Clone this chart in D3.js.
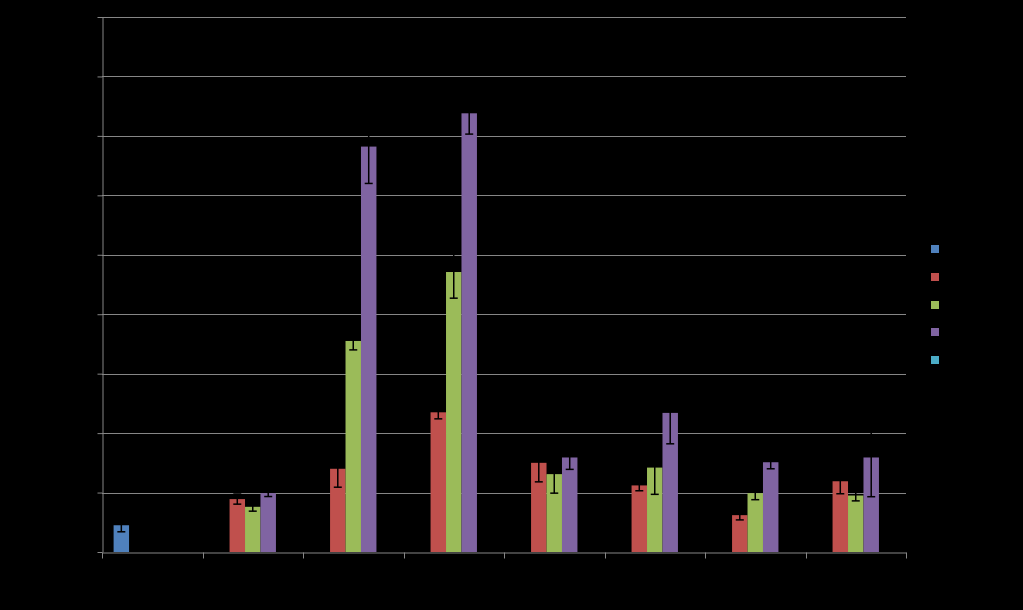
<!DOCTYPE html>
<html>
<head>
<meta charset="utf-8">
<script src="https://cdn.jsdelivr.net/npm/d3@7"></script>
<style>
html,body{margin:0;padding:0;background:#000;}
svg{display:block;}
</style>
</head>
<body>
<svg id="chart" width="1023" height="610"></svg>
<script>
const categories = ["1","2","3","4","5","6","7","8"];
const seriesNames = ["Series 1","Series 2","Series 3","Series 4","Series 5"];
const seriesColors = ["#4F81BD","#C0504D","#9BBB59","#8064A2","#4BACC6"];
const s1Values = [0.45, null, null, null, null, null, null, null];
const s1Errors = [0.11, null, null, null, null, null, null, null];
const s2Values = [null, 0.89, 1.40, 2.35, 1.50, 1.12, 0.62, 1.19];
const s2Errors = [null, 0.085, 0.31, 0.11, 0.32, 0.09, 0.08, 0.21];
const s3Values = [null, 0.76, 3.55, 4.71, 1.31, 1.42, 0.99, 0.95];
const s3Errors = [null, 0.073, 0.15, 0.44, 0.32, 0.45, 0.11, 0.09];
const s4Values = [null, 0.99, 6.82, 7.38, 1.59, 2.34, 1.51, 1.59];
const s4Errors = [null, 0.057, 0.62, 0.35, 0.20, 0.52, 0.11, 0.66];
const s5Values = [null, null, null, null, null, null, null, null];
const s5Errors = [null, null, null, null, null, null, null, null];
const yTicks = [0,1,2,3,4,5,6,7,8,9];

const seriesValues = [s1Values, s2Values, s3Values, s4Values, s5Values];
const seriesErrors = [s1Errors, s2Errors, s3Errors, s4Errors, s5Errors];

const svg = d3.select("#chart");
const m = {left:102, right:906, top:17, bottom:552};
const axisColor = "#868686";

const x = d3.scaleBand().domain(categories).range([m.left, m.right]).paddingInner(0).paddingOuter(0);
const xs = d3.scaleBand().domain(seriesNames).range([0, x.bandwidth()]).paddingInner(0).paddingOuter(0.15);
// Excel gap width 150%: 5 bars + 1.5 bar gap -> outer padding 0.75 bar each side
const barW = x.bandwidth() / 6.5;
const y = d3.scaleLinear().domain([0, 9]).range([m.bottom, m.top]);

// gridlines
svg.append("g").selectAll("line").data(yTicks.slice(1)).join("line")
  .attr("x1", m.left).attr("x2", m.right)
  .attr("y1", d => Math.round(y(d)) + 0.5).attr("y2", d => Math.round(y(d)) + 0.5)
  .attr("stroke", axisColor).attr("stroke-width", 1);

// bars
seriesNames.forEach((name, si) => {
  const vals = seriesValues[si];
  const g = svg.append("g");
  vals.forEach((v, ci) => {
    if (v == null) return;
    const bx = x(categories[ci]) + barW * 0.75 + si * barW;
    g.append("rect")
      .attr("x", bx).attr("width", barW)
      .attr("y", y(v)).attr("height", y(0) - y(v))
      .attr("fill", seriesColors[si]);
  });
});

// error bars
seriesNames.forEach((name, si) => {
  const vals = seriesValues[si], errs = seriesErrors[si];
  const g = svg.append("g").attr("stroke", "#000").attr("stroke-width", 1.5);
  vals.forEach((v, ci) => {
    if (v == null || errs[ci] == null) return;
    const cx = x(categories[ci]) + barW * 0.75 + si * barW + barW / 2;
    const lo = y(v - errs[ci]), hi = y(v + errs[ci]);
    g.append("line").attr("x1", cx).attr("x2", cx).attr("y1", lo).attr("y2", hi);
    g.append("line").attr("x1", cx - 4).attr("x2", cx + 4).attr("y1", lo).attr("y2", lo);
    g.append("line").attr("x1", cx - 4).attr("x2", cx + 4).attr("y1", hi).attr("y2", hi);
  });
});

// y axis
const yAxis = d3.axisLeft(y).tickValues(yTicks).tickSize(5).tickSizeOuter(0).tickPadding(6);
const gy = svg.append("g").attr("transform", `translate(${m.left + 0.5},0)`).call(yAxis);
gy.selectAll("line").attr("stroke", axisColor);
gy.select(".domain").attr("stroke", axisColor);
gy.selectAll("text").attr("fill", "#000").attr("font-family", "Liberation Sans, Arial, sans-serif").attr("font-size", 13);

// x axis
const xAxis = d3.axisBottom(x).tickSize(0).tickSizeOuter(0).tickPadding(8);
const gx = svg.append("g").attr("transform", `translate(0,${m.bottom + 0.5})`).call(xAxis);
gx.select(".domain").attr("stroke", axisColor);
gx.selectAll("text").attr("fill", "#000").attr("font-family", "Liberation Sans, Arial, sans-serif").attr("font-size", 13);
const boundaries = categories.map(c => x(c)).concat([m.right]);
gx.append("g").selectAll("line").data(boundaries).join("line")
  .attr("x1", d => Math.round(d) + 0.5).attr("x2", d => Math.round(d) + 0.5)
  .attr("y1", 0).attr("y2", 6).attr("stroke", axisColor);

// legend
const legend = svg.append("g");
const legY = [249, 277, 305, 332, 360];
seriesNames.forEach((name, i) => {
  legend.append("rect").attr("x", 931).attr("y", legY[i] - 4).attr("width", 8).attr("height", 8).attr("fill", seriesColors[i]);
  legend.append("text").attr("x", 944).attr("y", legY[i] + 4).text(name)
    .attr("fill", "#000").attr("font-family", "Liberation Sans, Arial, sans-serif").attr("font-size", 12);
});
</script>
</body>
</html>
